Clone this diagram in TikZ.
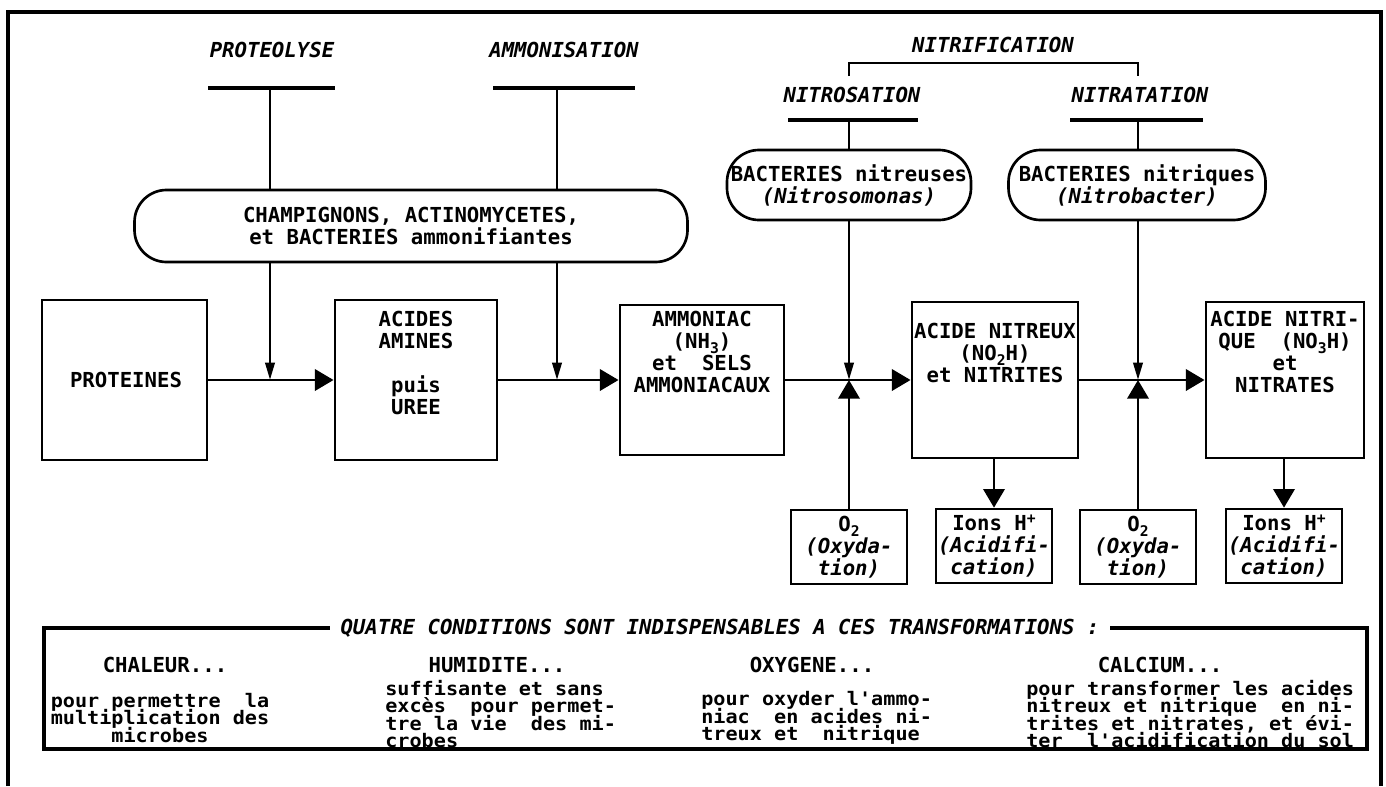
\documentclass[tikz,border=0pt]{standalone}
\usepackage{fontspec}
\setmainfont{DejaVu Sans Mono}
\newfontfamily\bodyfam{DejaVu Sans Mono}[FakeStretch=1.08]
\usetikzlibrary{arrows.meta,fit}
\newcommand\mysub[1]{\raisebox{-0.45ex}{\fontsize{11}{11}\selectfont #1}}
\newcommand\mysup[1]{\raisebox{0.65ex}{\fontsize{11}{11}\selectfont #1}}
\newcommand\mytight{\lineskiplimit-50pt\relax}
\newcommand\mainfnt{\bfseries\fontsize{15.5}{16.5}\selectfont\mytight}
\newcommand\bodyfnt{\bodyfam\bfseries\fontsize{14}{13}\selectfont\mytight}
\newcommand\labfnt{\bfseries\itshape\fontsize{15.5}{16.5}\selectfont}
\def\u{0.75pt}
\begin{document}
\begin{tikzpicture}[x=0.75pt,y=-0.75pt,
  font=\mainfnt,
  line width=2pt,
  box/.style={draw, line width=2.2pt, inner sep=0pt},
  txt/.style={align=center, inner sep=0pt},
  pill/.style={draw, rounded corners=24pt, line width=2pt, align=center, inner sep=0pt},
  small/.style={draw, line width=2pt, align=center, inner sep=0pt, minimum width=116*\u, minimum height=74*\u},
  lab/.style={font=\labfnt, inner sep=0pt},
  body/.style={font=\bodyfnt, inner sep=0pt},
  big/.style={-{Triangle[length=14pt,width=16pt]}},
  narrow/.style={-{Triangle[length=13pt,width=7pt]}},
  ul/.style={line width=2.6pt}]
\useasboundingbox (0,0) rectangle (1386,786);
% frame
\draw[line width=2.4pt] (8,786) -- (8,12) -- (1381,12) -- (1381,786);

% top labels
\node[lab] (lprot) at (272,50) {PROTEOLYSE};
\node[lab] (lamm) at (564,50) {AMMONISATION};
\node[lab] (lnitrif) at (993,45) {NITRIFICATION};
\node[lab] (lnitros) at (852,95) {NITROSATION};
\node[lab] (lnitrat) at (1140,95) {NITRATATION};

% underlines
\coordinate (u1a) at (208,88); \coordinate (u1b) at (335,88);
\coordinate (u2a) at (493,88); \coordinate (u2b) at (635,88);
\coordinate (u3a) at (788,120); \coordinate (u3b) at (918,120);
\coordinate (u4a) at (1070,120); \coordinate (u4b) at (1203,120);
\draw[ul] (u1a) -- (u1b);
\draw[ul] (u2a) -- (u2b);
\draw[ul] (u3a) -- (u3b);
\draw[ul] (u4a) -- (u4b);
% bracket
\coordinate (bra) at (849,76); \coordinate (brb) at (1138,76);
\draw (bra) -- (bra |- 0,63) -- (brb |- 0,63) -- (brb);

% pills
\node[pill, minimum width=553*\u, minimum height=72*\u] (p1) at (411,226)
  {CHAMPIGNONS, ACTINOMYCETES,\\et BACTERIES ammonifiantes};
\node[pill, minimum width=244*\u, minimum height=70*\u] (p2) at (849,185)
  {BACTERIES nitreuses\\\textit{(Nitrosomonas)}};
\node[pill, minimum width=257*\u, minimum height=70*\u] (p3) at (1137,185)
  {BACTERIES nitriques\\\textit{(Nitrobacter)}};

% main boxes
\node[box, fit={(42,300) (207,460)}] (prot) {};
\node[txt] (prott) at (126,380) {PROTEINES};
\node[box, fit={(335,300) (497,460)}] (acid) {};
\node[txt] (acidt) at (416,363) {ACIDES\\AMINES\\[17pt]puis\\UREE};
\node[box, fit={(620,305) (784,455)}] (amm) {};
\node[txt] (ammt) at (702,352) {AMMONIAC\\(NH\mysub{3})\\et~ SELS\\AMMONIACAUX};
\node[box, fit={(912,302) (1078,458)}] (nitreux) {};
\node[txt] (nitreuxt) at (995,353) {ACIDE NITREUX\\(NO\mysub{2}H)\\et NITRITES};
\node[box, fit={(1206,302) (1364,458)}] (nitrique) {};
\node[txt] (nitriquet) at (1285,352) {ACIDE NITRI-\\QUE~ (NO\mysub{3}H)~\\et\\NITRATES};

% small boxes
\node[small] (o2a) at (849,547) {O\mysub{2}\\\textit{(Oxyda-}\\\textit{tion)}};
\node[small] (ionsa) at (994,546) {Ions H\mysup{+}\\\textit{(Acidifi-}\\\textit{cation)}};
\node[small] (o2b) at (1138,547) {O\mysub{2}\\\textit{(Oxyda-}\\\textit{tion)}};
\node[small] (ionsb) at (1284,546) {Ions H\mysup{+}\\\textit{(Acidifi-}\\\textit{cation)}};

% junctions on the main line
\coordinate (j1) at (270,380);
\coordinate (j2) at (557,380);
\coordinate (j3) at (849,380);
\coordinate (j4) at (1138,380);

% verticals from labels to pills
\draw (u1a -| j1) -- (j1 |- p1.north);
\draw (u2a -| j2) -- (j2 |- p1.north);
\draw (u3a -| j3) -- (p2.north);
\draw (u4a -| j4) -- (j4 |- p3.north);
% verticals from pills to main line
\draw[narrow] (j1 |- p1.south) -- (j1);
\draw[narrow] (j2 |- p1.south) -- (j2);
\draw[narrow] (p2.south) -- (j3);
\draw[narrow] (j4 |- p3.south) -- (j4);
% oxygen arrows up
\draw[big] (o2a.north) -- (j3);
\draw[big] (o2b.north) -- (j4);

% main horizontal arrows
\draw[big] (prot.east) -- (acid.west);
\draw[big] (acid.east) -- (amm.west);
\draw[big] (amm.east) -- (nitreux.west);
\draw[big] (nitreux.east) -- (nitrique.west);
% acidification arrows
\draw[big] (nitreux.south -| ionsa.north) -- (ionsa.north);
\draw[big] (nitrique.south -| ionsb.north) -- (ionsb.north);

% conditions box
\node[draw, line width=2.4pt, fit={(44,628) (1367,749)}, inner sep=0pt] (cond) {};
\node[lab, fill=white, inner xsep=8pt, inner ysep=2pt] (ctitle) at (720,628)
  {QUATRE CONDITIONS SONT INDISPENSABLES A CES TRANSFORMATIONS :};

\node[inner sep=0pt] (hchal) at (165,665) {CHALEUR...};
\node[inner sep=0pt] (hhum) at (497,665) {HUMIDITE...};
\node[inner sep=0pt] (hoxy) at (812,665) {OXYGENE...};
\node[inner sep=0pt] (hcal) at (1160,665) {CALCIUM...};

\node[body, align=center] (tchal) at (160,718) {pour permettre~ la\\multiplication des\\microbes};
\node[body, align=left, anchor=west] (thum) at (384,714) {suffisante et sans\\excès~ pour permet-\\tre la vie~ des mi-\\crobes};
\node[body, align=left, anchor=west] (toxy) at (700,718) {pour oxyder l'ammo-\\niac~ en acides ni-\\treux et~ nitrique};
\node[body, align=left, anchor=west] (tcal) at (1025,714) {pour transformer les acides\\nitreux et nitrique~ en ni-\\trites et nitrates, et évi-\\ter~ l'acidification du sol};
\end{tikzpicture}
\end{document}
